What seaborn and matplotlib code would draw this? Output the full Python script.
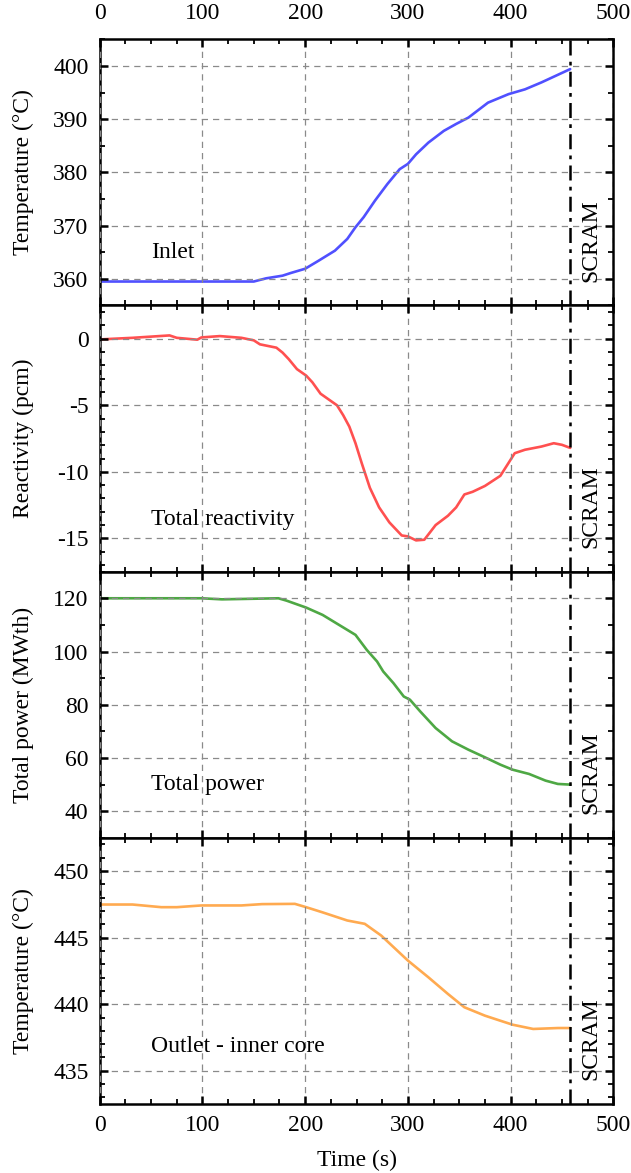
import numpy as np
import pandas as pd
import matplotlib
matplotlib.use("Agg")
import matplotlib.pyplot as plt
from matplotlib.ticker import MultipleLocator
import seaborn as sns

# -------------------------
# Data
# -------------------------

inlet_t = [0, 150, 162, 178, 186, 200, 213, 229, 241, 249, 257, 268, 280, 292,
           300, 308, 320, 335, 347, 359, 378, 398, 414, 430, 458]
inlet_T = [359.5, 359.5, 360.1, 360.6, 361.1, 361.9, 363.4, 365.3, 367.5, 369.7,
           371.6, 374.7, 377.8, 380.6, 381.6, 383.4, 385.6, 387.8, 389.1, 390.3,
           393.1, 394.7, 395.6, 396.9, 399.4]

react_t = [0, 32, 68, 75, 95, 99, 117, 138, 150, 156, 172, 178, 184, 192, 201,
           207, 215, 231, 237, 243, 249, 255, 263, 272, 282, 294, 300, 308, 316,
           327, 339, 347, 355, 363, 375, 390, 398, 404, 414, 430, 442, 450, 458]
react_pcm = [-0.05, 0.07, 0.25, 0.07, -0.07, 0.1, 0.2, 0.07, -0.12, -0.42, -0.67,
             -1.04, -1.53, -2.28, -2.77, -3.27, -4.13, -5.0, -5.74, -6.6, -7.85,
             -9.33, -11.2, -12.67, -13.8, -14.78, -14.85, -15.15, -15.1, -14.0,
             -13.3, -12.67, -11.7, -11.5, -11.06, -10.3, -9.33, -8.6, -8.34,
             -8.1, -7.85, -7.97, -8.2]

power_t = [0, 99, 119, 174, 182, 201, 217, 233, 249, 260, 270, 276, 286, 296,
           302, 312, 327, 343, 359, 375, 390, 402, 418, 434, 446, 458]
power_mw = [120, 120, 119.6, 120, 119.1, 116.5, 113.75, 110, 106.25, 100.6, 96.25,
            92.5, 88.1, 83.1, 81.9, 77.5, 71.25, 66.25, 63.1, 60.25, 57.5, 55.6,
            54, 51.5, 50.25, 50]

outlet_t = [0, 32, 60, 75, 99, 138, 158, 190, 201, 217, 241, 258, 274, 300, 320,
            339, 355, 375, 390, 402, 422, 446, 458]
outlet_T = [447.49, 447.49, 447.29, 447.29, 447.42, 447.42, 447.52, 447.54,
            447.29, 446.9, 446.29, 446.04, 445.16, 443.28, 442.02, 440.77,
            439.77, 439.14, 438.76, 438.46, 438.14, 438.21, 438.21]

scram_time = 458
time_ticks = [0, 100, 200, 300, 400, 500]

panel_labels = ["Inlet", "Total reactivity", "Total power", "Outlet - inner core"]
y_labels = ["Temperature (°C)", "Reactivity (pcm)", "Total power (MWth)",
            "Temperature (°C)"]
colors = ["#5050ff", "#ff5050", "#4ea844", "#ffaa50"]

# -------------------------
# Style
# -------------------------

sns.set_theme(style="ticks")
plt.rcParams["font.family"] = ["Liberation Serif", "DejaVu Serif"]
plt.rcParams["font.size"] = 17
plt.rcParams["axes.unicode_minus"] = False
plt.rcParams["axes.linewidth"] = 1.8
plt.rcParams["axes.edgecolor"] = "black"
plt.rcParams["axes.labelcolor"] = "black"
plt.rcParams["text.color"] = "black"
plt.rcParams["xtick.color"] = "black"
plt.rcParams["ytick.color"] = "black"
plt.rcParams["xtick.direction"] = "in"
plt.rcParams["ytick.direction"] = "in"

FS = 17

fig, axes = plt.subplots(4, 1, figsize=(6.31, 11.73), dpi=100, sharex=True)
fig.subplots_adjust(left=0.158, right=0.972, top=0.9665, bottom=0.0588, hspace=0)

series = [
    (inlet_t, inlet_T),
    (react_t, react_pcm),
    (power_t, power_mw),
    (outlet_t, outlet_T),
]
ylims = [(355, 405), (-17.5, 2.5), (30, 130), (432.5, 452.5)]
ymajor = [10, 5, 20, 5]
yminor = [5, 1, 10, 1]
label_y = [365, -13.6, 50, 436.8]

for i, ax in enumerate(axes):
    t, v = series[i]
    df = pd.DataFrame({"t": t, "v": v})
    sns.lineplot(data=df, x="t", y="v", ax=ax, color=colors[i], lw=1.9)

    ax.set_xlim(0, 500)
    ax.set_ylim(*ylims[i])
    ax.xaxis.set_major_locator(MultipleLocator(100))
    ax.xaxis.set_minor_locator(MultipleLocator(25))
    ax.yaxis.set_major_locator(MultipleLocator(ymajor[i]))
    ax.yaxis.set_minor_locator(MultipleLocator(yminor[i]))
    ax.tick_params(which="major", top=True, right=True, length=6, width=1.8,
                   labelsize=FS, pad=8)
    ax.tick_params(which="minor", top=True, right=True, length=3.5, width=1.3)
    ax.grid(True, which="major", ls=(0, (5, 4)), color="#8a8a8a", lw=0.9)
    ax.set_axisbelow(False)

    ax.axvline(scram_time, color="black", lw=1.8, ls=(0, (6, 2.5, 1.5, 2.5)))
    ax.text(478, ylims[i][0] + 0.09 * (ylims[i][1] - ylims[i][0]), "SCRAM",
            rotation=90, ha="center", va="bottom", fontsize=FS)
    ax.text(50, label_y[i], panel_labels[i], ha="left", va="center", fontsize=FS)

    ax.set_ylabel(y_labels[i], fontsize=FS)
    ax.yaxis.set_label_coords(-0.128, 0.5)
    ax.set_xlabel("")

for ax in axes[:3]:
    ax.tick_params(labelbottom=False)

# top tick labels on the first panel, set a bit further out
top = axes[0].secondary_xaxis("top")
top.set_xticks(time_ticks)
top.tick_params(length=0, labelsize=FS, pad=11)
top.spines["top"].set_visible(False)

axes[-1].set_xlabel("Time (s)", fontsize=FS, labelpad=10)

plt.savefig("out.png", dpi=100)
plt.close()
